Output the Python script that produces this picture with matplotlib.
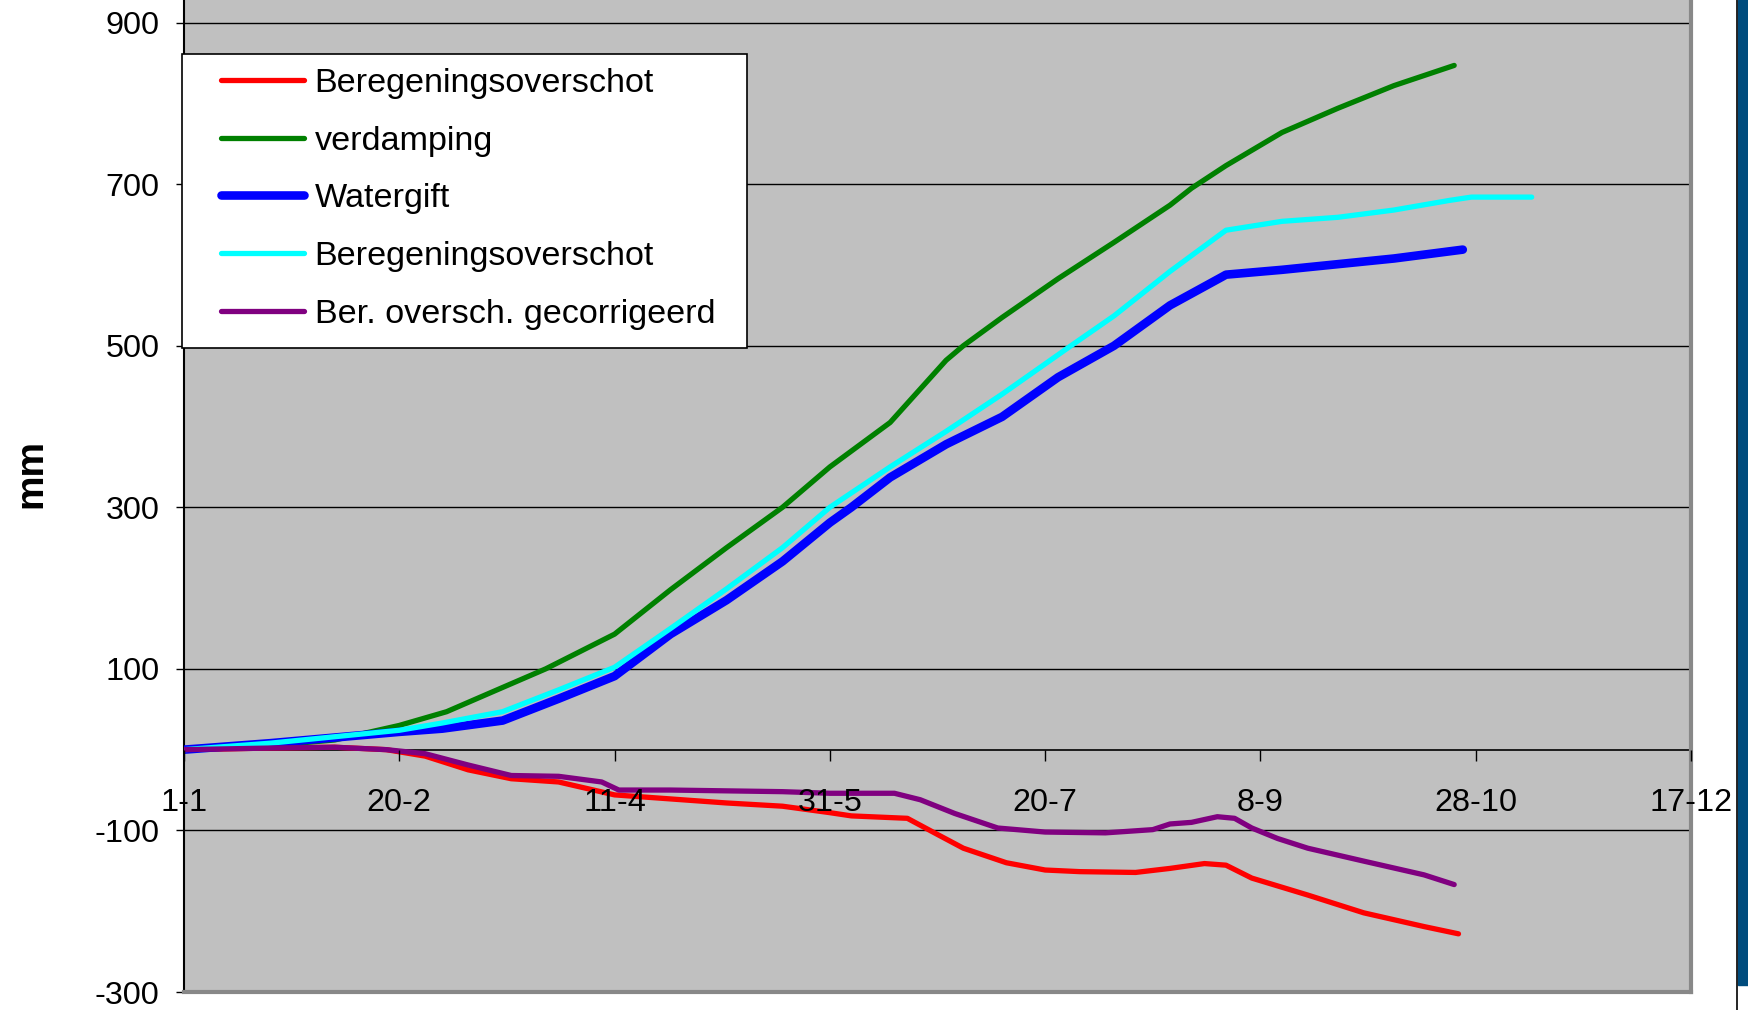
import matplotlib
matplotlib.use("Agg")
import matplotlib.pyplot as plt
from matplotlib.patches import Rectangle
from matplotlib.lines import Line2D

plt.rcParams['font.family'] = ['Liberation Sans', 'DejaVu Sans']

# ---- data (day of year, cumulative mm) ----
tick_days = [0, 50, 100, 150, 200, 250, 300, 350]
tick_labels = ["1-1", "20-2", "11-4", "31-5", "20-7", "8-9", "28-10", "17-12"]
y_ticks = [-300, -100, 100, 300, 500, 700, 900]

red_days = [0, 20, 35, 47, 56, 66, 76, 87, 100, 113, 126, 139, 150, 155, 168, 175,
            181, 191, 200, 208, 221, 229, 237, 242, 248, 261, 274, 288, 296]
red_vals = [0, 2, 3, 0, -8, -25, -36, -40, -56, -61, -66, -70, -78, -82, -85, -105,
            -122, -140, -149, -151, -152, -147, -141, -143, -159, -180, -202, -219, -228]

green_days = [0, 20, 35, 50, 61, 74, 84, 100, 113, 126, 139, 150, 164, 177, 181, 190,
              203, 216, 229, 234, 242, 255, 268, 281, 295]
green_vals = [0, 5, 12, 30, 47, 77, 100, 143, 198, 250, 300, 350, 405, 482, 500, 535,
              583, 628, 674, 695, 723, 764, 794, 822, 847]

blue_days = [0, 20, 35, 50, 60, 74, 87, 100, 113, 126, 139, 150, 155, 164, 177,
             190, 203, 216, 229, 241, 242, 255, 268, 281, 297]
blue_vals = [0, 8, 15, 22, 26, 36, 63, 91, 143, 185, 233, 281, 300, 337, 378,
             412, 461, 500, 550, 585, 588, 594, 601, 608, 619]

cyan_days = [0, 20, 35, 50, 60, 74, 87, 100, 113, 126, 139, 150, 164, 177, 190,
             206, 216, 229, 242, 255, 268, 281, 294, 299, 313]
cyan_vals = [0, 8, 16, 24, 33, 47, 74, 102, 150, 199, 250, 300, 350, 394, 440,
             500, 537, 592, 643, 654, 659, 668, 680, 684, 684]

purple_days = [0, 20, 35, 47, 56, 66, 76, 87, 97, 101, 113, 139, 150, 165, 171,
               179, 189, 200, 214, 225, 229, 234, 240, 244, 248, 254, 261, 274, 288, 295]
purple_vals = [0, 2, 3, 0, -5, -19, -32, -33, -40, -50, -50, -52, -54, -54, -62,
               -79, -97, -102, -103, -99, -92, -90, -83, -85, -97, -110, -122, -138, -155, -167]

series = [
    ("Beregeningsoverschot", red_days, red_vals, "#FF0000", 3.8),
    ("verdamping", green_days, green_vals, "#008000", 3.8),
    ("Watergift", blue_days, blue_vals, "#0000FF", 6.2),
    ("Beregeningsoverschot", cyan_days, cyan_vals, "#00FFFF", 3.8),
    ("Ber. oversch. gecorrigeerd", purple_days, purple_vals, "#800080", 3.8),
]

W, H = 1749, 1010
fig = plt.figure(figsize=(W / 100, H / 100), dpi=100)
fig.patch.set_facecolor("white")

left, right, bottom_px = 184, 1691, 992
ax = fig.add_axes([left / W, (H - bottom_px) / H, (right - left) / W, bottom_px / H])
ax.set_facecolor("#C0C0C0")

for label, d, v, c, lw in series:
    ax.plot(d, v, color=c, lw=lw, label=label, solid_capstyle="round",
            solid_joinstyle="round", zorder=3)

ax.set_xlim(0, 350)
ax.set_ylim(-300, 928)

# horizontal gridlines beneath the data
for t in y_ticks:
    ax.axhline(t, color="#000000", lw=1.0, zorder=1)

ax.set_yticks(y_ticks)
ax.set_yticklabels([str(t) for t in y_ticks])
ax.tick_params(axis="y", direction="out", length=6, width=1, labelsize=23.3, pad=11.5)

ax.set_xticks(tick_days)
ax.set_xticklabels(tick_labels)
ax.spines["bottom"].set_position(("data", 0))
ax.spines["bottom"].set_color("#000000")
ax.spines["bottom"].set_linewidth(1.2)
ax.tick_params(axis="x", direction="out", length=8, width=1, labelsize=23.3, pad=19.5)
ax.xaxis.set_zorder(4)
ax.spines["bottom"].set_zorder(2)

ax.spines["top"].set_visible(False)
ax.spines["left"].set_color("#000000")
ax.spines["left"].set_linewidth(1.5)
ax.spines["right"].set_color("#888888")
ax.spines["right"].set_linewidth(3)

# bottom frame of the plot area
ax.add_line(Line2D([0, 1], [0, 0], transform=ax.transAxes, color="#888888", lw=3,
                   clip_on=False, zorder=5))

fig.text(31 / W, 1 - 474 / H, "mm", rotation=90, fontsize=28, fontweight="bold",
         ha="center", va="center")

# legend frame and entries
ax.add_patch(Rectangle((182 / W, 1 - 348 / H), (747 - 182) / W, (348 - 54) / H,
                       transform=fig.transFigure, facecolor="white", edgecolor="black",
                       lw=1.2, zorder=6, clip_on=False))
leg = ax.legend(loc="upper left", bbox_to_anchor=(221 / W, 1 - 68 / H),
                bbox_transform=fig.transFigure, fontsize=24.6, frameon=False,
                borderaxespad=0, borderpad=0,
                handlelength=2.44, handletextpad=0.3, labelspacing=0.78)
leg.set_zorder(7)
for line in leg.get_lines():
    line.set_solid_capstyle("round")

# right-hand decoration
fig.patches.append(Rectangle((1738 / W, 1 - 985 / H), 11 / W, 985 / H,
                             transform=fig.transFigure, color="#004C7D", zorder=0))
fig.add_artist(Line2D([1737 / W, 1737 / W], [0, 1], transform=fig.transFigure,
                      color="black", lw=1.2))

fig.savefig("out.png", dpi=100)
